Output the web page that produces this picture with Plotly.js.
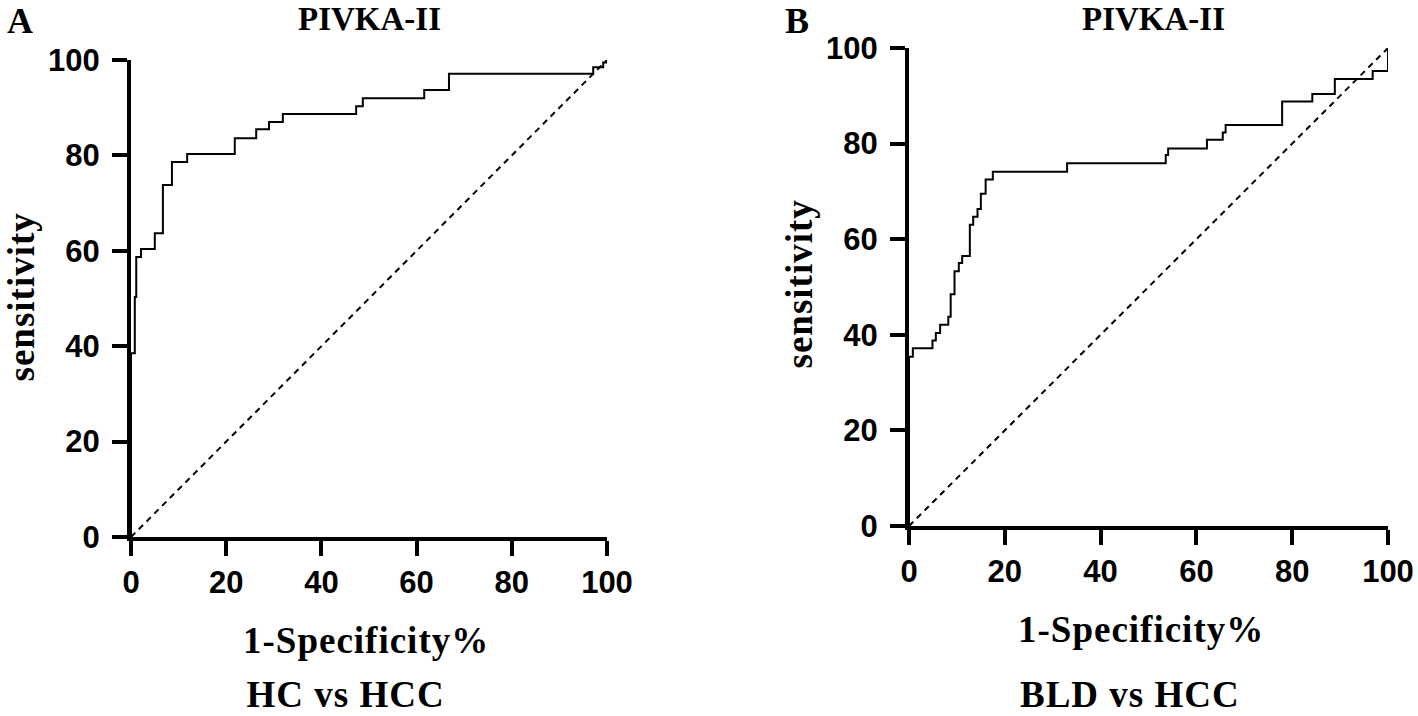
<!DOCTYPE html>
<html>
<head>
<meta charset="utf-8">
<script src="https://cdn.plot.ly/plotly-3.0.1.min.js"></script>
<style>
  html, body { margin: 0; padding: 0; background: #fff; }
  #chart { width: 1418px; height: 716px; }
  g.annotation[data-index="0"] .annotation-text,
  g.annotation[data-index="1"] .annotation-text,
  g.annotation[data-index="2"] .annotation-text,
  g.annotation[data-index="3"] .annotation-text,
  g.annotation[data-index="4"] .annotation-text,
  g.annotation[data-index="5"] .annotation-text { letter-spacing: 1px; }
</style>
</head>
<body>
<div id="chart"></div>
<script>
// ---- Data ----
// Panel A: HC vs HCC
const A_fpr  = [0, 0, 0.8, 1.1, 2.1, 5.0, 6.7, 8.6, 11.8, 21.8, 26.3, 29.0, 31.9, 47.3, 48.7, 61.6, 66.8, 97.1, 99.2, 100];
const A_sens = [0, 38.5, 50.3, 58.7, 60.4, 63.7, 73.8, 78.6, 80.3, 83.6, 85.5, 87.0, 88.7, 90.3, 92.0, 93.7, 97.1, 98.5, 99.5, 100];
// Panel B: BLD vs HCC
const B_fpr  = [0, 0, 0.8, 4.9, 5.6, 6.5, 8.2, 8.7, 9.5, 10.4, 11.1, 12.7, 13.4, 14.3, 15.0, 16.0, 17.5, 33.0, 53.6, 54.1, 62.2, 65.5, 66.1, 77.9, 84.2, 88.9, 96.8, 100];
const B_sens = [0, 35.4, 37.2, 38.8, 40.4, 42.1, 43.8, 48.5, 53.3, 55.0, 56.5, 63.0, 64.7, 66.3, 69.5, 72.5, 74.1, 75.9, 77.6, 79.0, 80.8, 82.3, 83.9, 88.8, 90.4, 93.5, 95.2, 100];
// Reference line
const diagX = [0, 100];
const diagY = [0, 100];
// Tick values / labels
const tickVals = [0, 20, 40, 60, 80, 100];
const tickText = ["0", "20", "40", "60", "80", "100"];
// Texts
const panelLabels = ["A", "B"];
const panelTitles = ["PIVKA-II", "PIVKA-II"];
const xTitle = "1-Specificity%";
const yTitle = "sensitivity";
const comparisons = ["HC vs HCC", "BLD vs HCC"];

// ---- Layout helpers ----
const W = 1418, H = 716;
const px = v => v / W;
const py = v => 1 - v / H;
const serif = "'Liberation Serif', 'Times New Roman', serif";
const sans = "'Liberation Sans', Arial, sans-serif";

const roc = (x, y, xa, ya) => ({
  x: x, y: y, xaxis: xa, yaxis: ya, type: 'scatter', mode: 'lines',
  line: { color: '#000', width: 2, shape: 'hv' }, hoverinfo: 'skip'
});
const diag = (xa, ya) => ({
  x: diagX, y: diagY, xaxis: xa, yaxis: ya, type: 'scatter', mode: 'lines',
  line: { color: '#000', width: 2, dash: '6px,5px' }, hoverinfo: 'skip'
});

const data = [
  diag('x', 'y'), roc(A_fpr, A_sens, 'x', 'y'),
  diag('x2', 'y2'), roc(B_fpr, B_sens, 'x2', 'y2')
];

const axisCommon = {
  range: [0, 100], tickvals: tickVals, ticktext: tickText,
  showline: true, linecolor: '#000', linewidth: 4,
  ticks: 'outside', ticklen: 15, tickwidth: 4, tickcolor: '#000',
  showgrid: false, zeroline: false, fixedrange: true,
  tickfont: { family: sans, size: 31, color: '#000', weight: 'bold' }
};

const ann = (text, x, y, size, angle, yanchor) => ({
  text: text, xref: 'paper', yref: 'paper', x: px(x), y: py(y),
  xanchor: 'center', yanchor: yanchor || 'middle', showarrow: false, textangle: angle || 0,
  borderpad: 0,
  font: { family: serif, size: size, color: '#000', weight: 'bold' }
});

const layout = {
  width: W, height: H,
  margin: { l: 0, r: 0, t: 0, b: 0 },
  paper_bgcolor: '#fff', plot_bgcolor: '#fff',
  showlegend: false,
  xaxis:  Object.assign({}, axisCommon, { domain: [px(131), px(607)], anchor: 'y' }),
  yaxis:  Object.assign({}, axisCommon, { domain: [py(537), py(60)], anchor: 'x', ticklabelstandoff: 6 }),
  xaxis2: Object.assign({}, axisCommon, { domain: [px(909), px(1388)], anchor: 'y2' }),
  yaxis2: Object.assign({}, axisCommon, { domain: [py(526), py(48)], anchor: 'x2', ticklabelstandoff: 6 }),
  annotations: [
    ann(xTitle, 366, 640, 37),
    ann(comparisons[0], 345, 716, 37, 0, 'bottom'),
    ann(yTitle, 21, 297, 37, -90),
    ann(xTitle, 1141, 629, 37),
    ann(comparisons[1], 1130, 694, 37),
    ann(yTitle, 799, 284, 37, -90),
    ann(panelLabels[0], 20, 0, 36, 0, 'top'),
    ann(panelLabels[1], 797, 0, 36, 0, 'top'),
    ann(panelTitles[0], 369, 0, 33, 0, 'top'),
    ann(panelTitles[1], 1153, 0, 33, 0, 'top')
  ]
};

Plotly.newPlot('chart', data, layout, { displayModeBar: false, staticPlot: true });
</script>
</body>
</html>
